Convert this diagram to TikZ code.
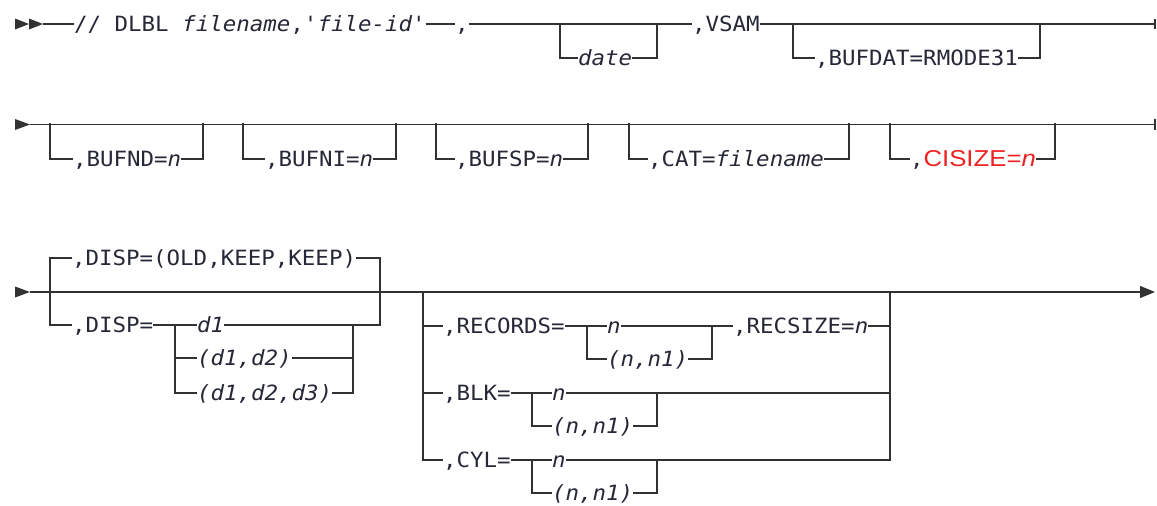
\documentclass[tikz,border=0pt]{standalone}
\usepackage{fontspec}
\setmonofont[FakeStretch=1.07]{DejaVu Sans Mono}
\newfontfamily\redsans[FakeStretch=1.12]{Liberation Sans}
\usetikzlibrary{arrows.meta}
\definecolor{linecol}{RGB}{50,50,50}
\definecolor{txtcol}{RGB}{38,40,56}
\definecolor{cisred}{RGB}{238,34,34}
\newcommand\monotext{\ttfamily\fontsize{21}{26}\selectfont}
\begin{document}
\begin{tikzpicture}[x=1pt,y=-1pt,
  rail/.style={line width=1.3pt, draw=linecol},
  bar/.style={line width=2.8pt, draw=linecol, line cap=rect},
  lbl/.style={anchor=west, inner sep=0pt, outer sep=0pt, text=txtcol,
     font=\monotext, text height=14pt, text depth=0pt},
  tip/.style={fill=linecol}]
\useasboundingbox (0,0) rectangle (1157,506);

% ---------------- Row 1 ----------------
\fill[tip] (15,18.5) -- (29,24) -- (15,29.5) -- cycle;
\fill[tip] (29,18.5) -- (43,24) -- (29,29.5) -- cycle;
\coordinate (a1) at (43,24);
\node[lbl] (dlbl) at (74,24) {// DLBL \textit{filename},\textit{'file-id'}};
\node[lbl] (comma1) at (455,24) {,};
\coordinate (k1l) at (560,24); \coordinate (k1lb) at (560,58);
\coordinate (k1r) at (657,24); \coordinate (k1rb) at (657,58);
\node[lbl] (date) at (578,58) {\textit{date}};
\node[lbl] (vsam) at (692,24) {,VSAM};
\coordinate (k2l) at (793,24); \coordinate (k2lb) at (793,58);
\coordinate (k2r) at (1040,24); \coordinate (k2rb) at (1040,58);
\node[lbl] (bufdat) at (815,58) {,BUFDAT=RMODE31};
\coordinate (e1) at (1155,24);

\draw[rail] (a1) -- (dlbl.west);
\draw[rail] (dlbl.east) -- (comma1.west);
\draw[rail] (comma1.east) -- (k1l) -- (k1r) -- (vsam.west);
\draw[rail] (vsam.east) -- (k2l) -- (k2r) -- (e1);
\draw[bar] (k1l) -- (k1lb); \draw[bar] (k1r) -- (k1rb);
\draw[rail] (k1lb) -- (date.west); \draw[rail] (date.east) -- (k1rb);
\draw[bar] (k2l) -- (k2lb); \draw[bar] (k2r) -- (k2rb);
\draw[rail] (k2lb) -- (bufdat.west); \draw[rail] (bufdat.east) -- (k2rb);
\draw[bar] ([yshift=4pt]e1) -- ([yshift=-4pt]e1);

% ---------------- Row 2 ----------------
\fill[tip] (15,119) -- (30,124.5) -- (15,130) -- cycle;
\coordinate (a2) at (30,124.5);
\coordinate (e2) at (1155,124.5);
\draw[rail] (a2) -- (e2);
\draw[bar] ([yshift=4pt]e2) -- ([yshift=-4pt]e2);

\coordinate (p1l) at (50,124.5);  \coordinate (p1lb) at (50,159);
\coordinate (p1r) at (203,124.5); \coordinate (p1rb) at (203,159);
\node[lbl] (bufnd) at (73,159) {,BUFND=\textit{n}};
\coordinate (p2l) at (243,124.5); \coordinate (p2lb) at (243,159);
\coordinate (p2r) at (396,124.5); \coordinate (p2rb) at (396,159);
\node[lbl] (bufni) at (265,159) {,BUFNI=\textit{n}};
\coordinate (p3l) at (436,124.5); \coordinate (p3lb) at (436,159);
\coordinate (p3r) at (588,124.5); \coordinate (p3rb) at (588,159);
\node[lbl] (bufsp) at (455,159) {,BUFSP=\textit{n}};
\coordinate (p4l) at (629,124.5); \coordinate (p4lb) at (629,159);
\coordinate (p4r) at (849,124.5); \coordinate (p4rb) at (849,159);
\node[lbl] (cat) at (648,159) {,CAT=\textit{filename}};
\coordinate (p5l) at (890,124.5); \coordinate (p5lb) at (890,159);
\coordinate (p5r) at (1055,124.5); \coordinate (p5rb) at (1055,159);
\node[lbl] (cisize) at (910,159) {,\textcolor{cisred}{\redsans\fontsize{23}{27}\selectfont CISIZE=\textit{n}}};

\foreach \k/\t in {p1/bufnd,p2/bufni,p3/bufsp,p4/cat,p5/cisize}{
  \draw[bar] (\k l) -- (\k lb); \draw[bar] (\k r) -- (\k rb);
  \draw[rail] (\k lb) -- (\t.west); \draw[rail] (\t.east) -- (\k rb);
}

% ---------------- Row 3 ----------------
\fill[tip] (15,286.5) -- (30,292) -- (15,297.5) -- cycle;
\coordinate (a3) at (30,292);
\coordinate (e3) at (1155,292);
\draw[rail, -{Triangle[length=15pt,width=12pt]}] (a3) -- (e3);

% DISP group
\coordinate (dtl) at (50,258); \coordinate (dbl) at (50,325);
\coordinate (dtr) at (380,258); \coordinate (dbr) at (380,325);
\node[lbl] (disp1) at (72,258) {,DISP=(OLD,KEEP,KEEP)};
\node[lbl] (disp2) at (72,325) {,DISP=};
\coordinate (s1t) at (175,325); \coordinate (s1m) at (175,358); \coordinate (s1b) at (175,393);
\coordinate (s2t) at (353,325); \coordinate (s2m) at (353,358); \coordinate (s2b) at (353,393);
\node[lbl] (d1) at (197,325) {\textit{d1}};
\node[lbl] (d12) at (197,358) {\textit{(d1,d2)}};
\node[lbl] (d123) at (197,393) {\textit{(d1,d2,d3)}};

\draw[bar] (dtl) -- (dbl); \draw[bar] (dtr) -- (dbr);
\draw[rail] (dtl) -- (disp1.west); \draw[rail] (disp1.east) -- (dtr);
\draw[rail] (dbl) -- (disp2.west);
\draw[rail] (disp2.east) -- (s1t) -- (d1.west);
\draw[rail] (d1.east) -- (s2t) -- (dbr);
\draw[bar] (s1t) -- (s1b); \draw[bar] (s2t) -- (s2b);
\draw[rail] (s1m) -- (d12.west); \draw[rail] (d12.east) -- (s2m);
\draw[rail] (s1b) -- (d123.west); \draw[rail] (d123.east) -- (s2b);

% RECORDS / BLK / CYL group
\coordinate (gl) at (423,292); \coordinate (glb) at (423,460);
\coordinate (gr) at (890,292); \coordinate (grb) at (890,460);
\coordinate (gl1) at (423,326); \coordinate (gr1) at (890,326);
\coordinate (gl2) at (423,393); \coordinate (gr2) at (890,393);
\draw[bar] (gl) -- (glb); \draw[bar] (gr) -- (grb);

\node[lbl] (rec) at (443,326) {,RECORDS=};
\coordinate (ra) at (587,326); \coordinate (rab) at (587,359);
\coordinate (rb) at (712,326); \coordinate (rbb) at (712,359);
\node[lbl] (rn) at (607,326) {\textit{n}};
\node[lbl] (rn1) at (607,359) {\textit{(n,n1)}};
\node[lbl] (recsize) at (733,326) {,RECSIZE=\textit{n}};
\draw[rail] (gl1) -- (rec.west);
\draw[rail] (rec.east) -- (ra) -- (rn.west);
\draw[rail] (rn.east) -- (rb) -- (recsize.west);
\draw[rail] (recsize.east) -- (gr1);
\draw[bar] (ra) -- (rab); \draw[bar] (rb) -- (rbb);
\draw[rail] (rab) -- (rn1.west); \draw[rail] (rn1.east) -- (rbb);

\node[lbl] (blk) at (443,393) {,BLK=};
\coordinate (ba) at (532,393); \coordinate (bab) at (532,426);
\coordinate (bb) at (657,393); \coordinate (bbb) at (657,426);
\node[lbl] (bn) at (552,393) {\textit{n}};
\node[lbl] (bn1) at (552,426) {\textit{(n,n1)}};
\draw[rail] (gl2) -- (blk.west);
\draw[rail] (blk.east) -- (ba) -- (bn.west);
\draw[rail] (bn.east) -- (gr2);
\draw[bar] (ba) -- (bab); \draw[bar] (bb) -- (bbb);
\draw[rail] (bab) -- (bn1.west); \draw[rail] (bn1.east) -- (bbb);

\node[lbl] (cyl) at (443,460) {,CYL=};
\coordinate (ca) at (532,460); \coordinate (cab) at (532,493);
\coordinate (cb) at (657,460); \coordinate (cbb) at (657,493);
\node[lbl] (cn) at (552,460) {\textit{n}};
\node[lbl] (cn1) at (552,493) {\textit{(n,n1)}};
\draw[rail] (glb) -- (cyl.west);
\draw[rail] (cyl.east) -- (ca) -- (cn.west);
\draw[rail] (cn.east) -- (grb);
\draw[bar] (ca) -- (cab); \draw[bar] (cb) -- (cbb);
\draw[rail] (cab) -- (cn1.west); \draw[rail] (cn1.east) -- (cbb);
\end{tikzpicture}
\end{document}
